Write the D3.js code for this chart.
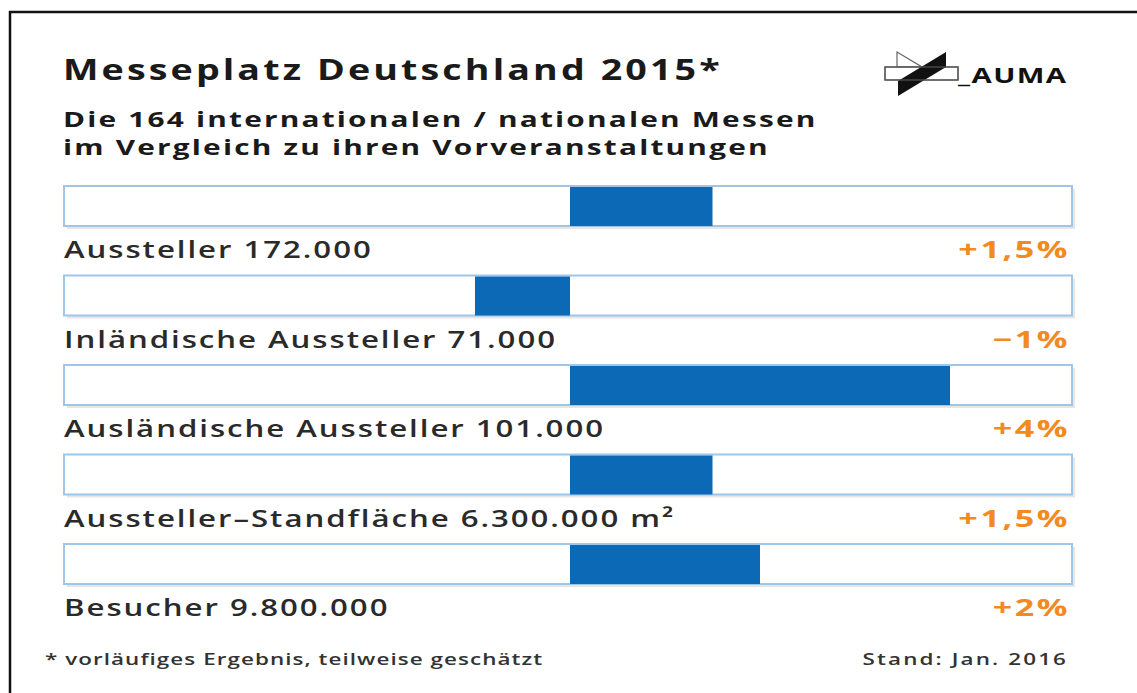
<!DOCTYPE html>
<html><head><meta charset="utf-8">
<script src="https://cdn.jsdelivr.net/npm/d3@7"></script>
<style>
html,body{margin:0;padding:0;background:#fff;}
svg{display:block;}
text{font-family:"Open Sans",sans-serif;}
</style></head>
<body>
<svg id="chart" width="1137" height="693"></svg>
<script>
const categories = ["Aussteller 172.000","Inländische Aussteller 71.000","Ausländische Aussteller 101.000","Aussteller–Standfläche 6.300.000 m²","Besucher 9.800.000"];
const changes = [1.5, -1, 4, 1.5, 2];
const changeLabels = ["+1,5%","−1%","+4%","+1,5%","+2%"];
const titleText = "Messeplatz Deutschland 2015*";
const subtitleLines = ["Die 164 internationalen / nationalen Messen","im Vergleich zu ihren Vorveranstaltungen"];
const footnoteText = "* vorläufiges Ergebnis, teilweise geschätzt";
const sourceText = "Stand: Jan. 2016";

const svg = d3.select("#chart");
const W = 1137, H = 693;
const trackL = 64, trackR = 1072, trackH = 40;

function stretched(sel, px, py, sx) {
  return sel.attr("transform", (d,i) => {
    const X = typeof px === "function" ? px(d,i) : px;
    const Y = typeof py === "function" ? py(d,i) : py;
    return `translate(${X},${Y}) scale(${sx},1)`;
  });
}

svg.append("rect").attr("x",0).attr("y",0).attr("width",W).attr("height",H).attr("fill","#fff");
svg.append("rect").attr("x",10).attr("y",12).attr("width",W+20).attr("height",H+20)
  .attr("fill","none").attr("stroke","#111").attr("stroke-width",2.5);

// Title
stretched(svg.append("text").text(titleText)
  .attr("font-size",28).attr("font-weight",700).attr("fill","#1a1a1a").attr("letter-spacing",2.3), 63, 80, 1.345);
// Subtitle lines
stretched(svg.selectAll("text.sub").data(subtitleLines).join("text").attr("class","sub").text(d=>d)
  .attr("font-size",21).attr("font-weight",700).attr("fill","#1a1a1a").attr("letter-spacing",1.55),
  63, (d,i)=>127+i*28, 1.42);

// Scales
const x = d3.scaleLinear().domain([-506/95, 502/95]).range([trackL, trackR]);
const y = d3.scaleBand().domain(categories).range([186, 186 + 89.5*categories.length]);

const rows = svg.selectAll("g.row").data(categories.map((c,i)=>({c, v:changes[i], lab:changeLabels[i]})))
  .join("g").attr("class","row").attr("transform",d=>`translate(0,${y(d.c)})`);

rows.append("rect").attr("x",trackL+3).attr("y",3).attr("width",trackR-trackL).attr("height",trackH)
  .attr("fill","#e6e6e6");
rows.append("rect").attr("x",trackL).attr("y",0).attr("width",trackR-trackL).attr("height",trackH)
  .attr("fill","#fff").attr("stroke","#9fc5e8").attr("stroke-width",2);
rows.append("rect")
  .attr("x",d=>x(Math.min(0,d.v))).attr("y",1)
  .attr("width",d=>Math.abs(x(d.v)-x(0))).attr("height",trackH-1)
  .attr("fill","#0b69b5");
stretched(rows.append("text").text(d=>d.c)
  .attr("font-size",24).attr("font-weight",600).attr("fill","#2a2a2a").attr("letter-spacing",1.5),
  64, trackH+32, 1.3);
stretched(rows.append("text").attr("text-anchor","end").text(d=>d.lab)
  .attr("font-size",24).attr("font-weight",700).attr("fill","#f28a1f").attr("letter-spacing",1.8),
  1070, trackH+32, 1.42);

// footer
stretched(svg.append("text").text(footnoteText)
  .attr("font-size",17).attr("font-weight",600).attr("fill","#333").attr("letter-spacing",0.8), 45, 665, 1.32);
stretched(svg.append("text").attr("text-anchor","end").text(sourceText)
  .attr("font-size",17).attr("font-weight",600).attr("fill","#333").attr("letter-spacing",1.6), 1068, 665, 1.32);

// AUMA logo
const logo = svg.append("g");
logo.append("path").attr("d","M897,52 L897,67 L922,67 Z").attr("fill","#fff").attr("stroke","#666").attr("stroke-width",1.2);
logo.append("rect").attr("x",885).attr("y",67).attr("width",73).attr("height",13)
  .attr("fill","#fff").attr("stroke","#555").attr("stroke-width",1.2);
logo.append("path").attr("d","M946,52 L946,67 L898,96 L898,81 Z").attr("fill","#111");
logo.append("rect").attr("x",885).attr("y",67).attr("width",73).attr("height",13)
  .attr("fill","none").attr("stroke","#555").attr("stroke-width",1.2);
stretched(logo.append("text").text("_AUMA")
  .attr("font-size",21).attr("font-weight",700).attr("fill","#111").attr("letter-spacing",1), 958, 83, 1.4);
</script>
</body></html>
